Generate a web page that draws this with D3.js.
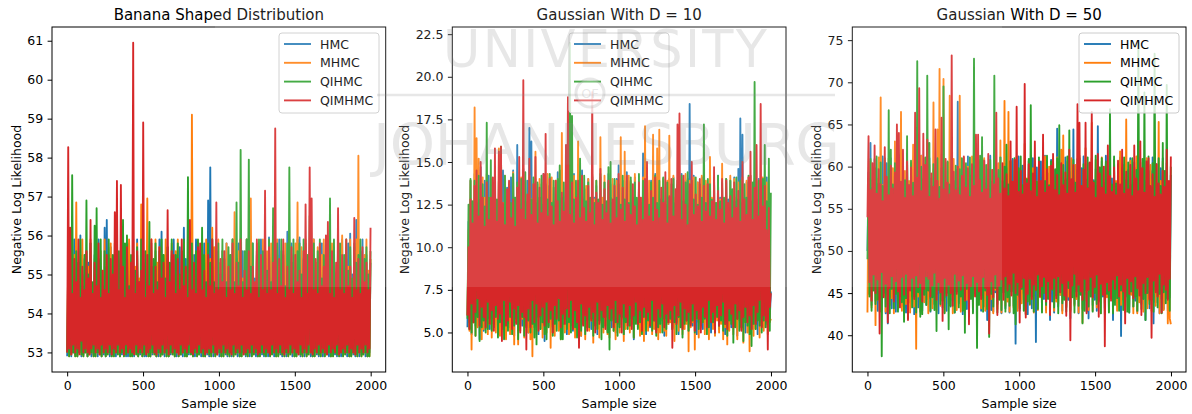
<!DOCTYPE html>
<html>
<head>
<meta charset="utf-8">
<script src="https://cdn.jsdelivr.net/npm/d3@7"></script>
<style>
  body { margin: 0; background: #fff; }
  text { font-family: "DejaVu Sans", sans-serif; }
</style>
</head>
<body>
<div id="my_dataviz"></div>
<script>
// trace positions (thinned from the 2000 drawn samples)
const sampleSize = d3.range(300).map(i => Math.round(i * 1999 / 299));
const methods = ["HMC", "MHMC", "QIHMC", "QIMHMC"];
const colors = ["#1f77b4", "#ff7f0e", "#2ca02c", "#d62728"];
const xTicks = [0, 500, 1000, 1500, 2000];

// Banana shaped distribution
const bananaHMC = [
  52.9,54.5,53.0,55.6,52.9,54.8,53.0,55.9,52.95,54.6,52.9,55.3,53.0,56.0,52.9,55.0,52.95,55.4,53.0,54.7,
  52.9,55.3,53.0,55.8,52.9,54.7,52.95,55.5,53.0,55.0,52.9,55.9,53.0,55.2,52.9,54.8,52.95,56.2,52.9,56.4,
  53.0,55.0,52.9,55.7,52.95,54.6,53.0,55.4,52.9,55.9,53.0,54.8,52.9,55.3,52.95,55.6,53.0,54.9,52.9,55.4,
  52.9,55.8,53.0,54.7,52.95,55.5,52.9,55.0,53.0,55.9,52.9,54.6,52.95,55.3,53.0,55.7,52.9,54.8,52.9,55.5,
  53.0,55.1,52.9,55.8,52.95,54.7,53.0,55.6,52.9,55.0,52.9,55.9,53.0,56.1,52.95,54.8,52.9,55.4,53.0,55.7,
  52.9,54.7,52.95,55.5,53.0,55.9,52.9,54.9,52.9,55.3,53.0,55.7,52.95,54.6,52.9,56.2,53.0,55.4,52.9,55.0,
  52.95,55.8,53.0,54.7,52.9,55.5,52.9,55.9,53.0,54.8,52.95,55.6,52.9,55.1,53.0,55.8,52.9,54.7,52.95,56.9,
  52.9,57.75,53.0,55.3,52.9,54.8,52.95,55.9,53.0,55.2,52.9,54.7,52.9,55.6,53.0,55.0,52.95,55.8,52.9,54.9,
  53.0,55.5,52.9,55.9,52.95,54.7,53.0,55.4,52.9,55.8,52.9,54.8,53.0,55.6,52.95,55.1,52.9,55.9,53.0,54.7,
  52.9,55.4,52.95,55.8,53.0,54.9,52.9,55.6,52.9,55.2,53.0,55.9,52.95,54.7,52.9,55.5,53.0,55.0,52.9,55.95,
  52.95,55.3,53.0,55.8,52.9,54.7,52.9,55.5,53.0,55.9,52.95,55.0,52.9,55.6,53.0,54.8,52.9,56.1,52.95,55.4,
  53.0,55.8,52.9,54.9,52.9,55.5,53.0,55.9,52.95,55.95,52.9,54.7,53.0,55.4,52.9,55.8,52.95,55.0,53.0,55.6,
  52.9,54.8,52.9,55.9,53.0,55.3,52.95,54.7,52.9,55.7,53.0,55.8,52.9,55.0,52.95,55.5,53.0,54.8,52.9,55.9,
  52.9,55.2,53.0,55.7,52.95,54.8,52.9,55.5,53.0,55.6,52.9,55.9,52.95,54.7,53.0,55.4,52.9,55.8,52.9,56.05,
  53.0,55.0,52.95,55.7,52.9,56.4,53.0,54.8,52.9,55.6,52.95,55.9,53.0,55.1,52.9,55.5,52.9,54.8,53.0,55.3];
const bananaMHMC = [
  53.0,55.4,52.9,55.8,52.95,54.7,53.0,55.5,52.9,56.85,52.9,55.0,53.0,55.5,52.95,55.9,52.9,54.8,53.0,55.6,
  52.9,55.2,52.95,55.9,53.0,54.7,52.9,55.4,52.9,55.8,53.0,54.9,52.95,55.6,52.9,55.1,53.0,55.9,52.9,54.8,
  52.95,55.5,53.0,55.8,52.9,54.7,52.9,55.3,53.0,55.9,52.95,55.0,52.9,55.7,53.0,54.8,52.9,55.4,52.95,55.5,
  53.0,55.9,52.9,54.7,52.9,55.6,53.0,55.2,52.95,55.8,52.9,54.9,53.0,56.8,52.9,55.4,52.95,54.7,53.0,56.95,
  52.9,55.5,52.9,55.9,53.0,54.8,52.95,55.9,52.9,55.3,53.0,55.7,52.9,54.7,52.95,55.5,53.0,55.9,52.9,55.3,
  52.9,55.0,53.0,55.8,52.95,54.8,52.9,55.6,53.0,55.9,52.9,54.7,52.95,55.4,53.0,55.8,52.9,55.0,52.9,55.6,
  53.0,55.9,52.95,59.1,52.9,54.8,53.0,55.5,52.9,55.8,52.95,54.9,53.0,55.6,52.9,55.3,52.9,55.9,53.0,54.7,
  52.95,55.4,52.9,56.2,53.0,55.7,52.9,54.8,52.95,55.9,53.0,55.3,52.9,55.6,52.9,54.7,53.0,55.8,52.95,55.2,
  52.9,55.5,53.0,55.9,52.9,56.6,52.95,54.8,53.0,55.6,52.9,55.8,52.9,54.9,53.0,55.4,52.95,55.9,52.9,55.0,
  53.0,56.95,52.9,55.3,52.95,54.8,53.0,55.8,52.9,55.5,52.9,54.7,53.0,55.9,52.95,55.2,52.9,55.6,53.0,54.9,
  52.9,55.8,52.95,55.4,53.0,54.8,52.9,55.9,52.9,55.2,53.0,55.6,52.95,54.7,52.9,55.8,53.0,55.3,52.9,55.9,
  52.95,54.8,53.0,55.5,52.9,55.8,52.9,56.85,53.0,55.0,52.95,55.7,52.9,54.8,53.0,55.9,52.9,55.4,52.95,55.6,
  53.0,54.7,52.9,55.9,52.9,55.3,53.0,55.7,52.95,54.8,52.9,55.5,53.0,55.9,52.9,55.0,52.95,55.6,53.0,54.8,
  52.9,55.8,52.9,55.3,53.0,54.7,52.95,55.9,52.9,55.4,53.0,56.0,52.9,54.8,52.95,55.7,53.0,55.2,52.9,55.9,
  52.9,54.8,53.0,55.6,52.95,55.9,52.9,58.05,53.0,55.45,52.9,54.8,52.95,55.5,53.0,55.9,52.9,55.1,52.9,55.4];
const bananaQIHMC = [
  53.0,55.3,52.9,55.9,52.95,57.55,53.0,54.8,52.9,55.6,52.9,55.3,53.0,55.9,52.95,54.7,52.9,55.5,53.0,56.9,
  52.9,55.0,52.95,55.8,53.0,54.8,52.9,56.25,52.9,56.7,53.0,55.4,52.95,55.9,52.9,54.7,53.0,55.6,52.9,55.2,
  52.95,55.9,53.0,54.8,52.9,55.5,52.9,55.8,53.0,54.9,52.95,55.6,52.9,55.2,53.0,56.4,52.9,55.8,52.95,56.0,
  53.0,54.7,52.9,55.5,52.9,55.9,53.0,55.1,52.95,55.7,52.9,54.8,53.0,55.9,52.9,55.3,52.95,55.6,53.0,54.8,
  52.9,56.35,52.9,55.2,53.0,55.4,52.95,55.8,52.9,54.8,53.0,55.6,52.9,55.9,52.95,55.5,53.0,54.9,52.9,55.7,
  52.9,55.3,53.0,55.9,52.95,54.8,52.9,55.5,53.0,55.8,52.9,55.0,52.95,55.6,53.0,55.9,52.9,54.8,52.9,57.5,
  53.0,55.4,52.95,55.8,52.9,54.9,53.0,55.6,52.9,55.9,52.95,55.1,53.0,56.2,52.9,55.5,52.9,54.8,53.0,55.8,
  52.95,55.3,52.9,55.9,53.0,54.8,52.9,55.6,52.95,55.8,53.0,55.0,52.9,55.9,52.9,55.4,53.0,54.8,52.95,55.7,
  52.9,55.5,53.0,55.9,52.9,54.8,52.95,56.85,53.0,55.3,52.9,58.2,52.9,54.8,53.0,55.6,52.95,55.9,52.9,57.95,
  53.0,55.2,52.9,55.8,52.95,54.8,53.0,55.5,52.9,55.9,52.9,54.7,53.0,55.6,52.95,55.8,52.9,55.1,53.0,55.9,
  52.9,54.8,52.95,56.7,53.0,55.4,52.9,55.8,52.9,54.9,53.0,55.9,52.95,55.5,52.9,54.7,53.0,55.8,52.9,57.75,
  52.95,55.3,53.0,55.9,52.9,54.8,52.9,55.6,53.0,55.8,52.95,55.0,52.9,55.9,53.0,54.7,52.9,55.5,52.95,56.5,
  53.0,55.2,52.9,55.8,52.9,54.8,53.0,55.6,52.95,55.9,52.9,54.9,53.0,55.5,52.9,55.8,52.95,54.8,53.0,56.95,
  52.9,55.4,52.9,55.9,53.0,54.8,52.95,55.6,52.9,55.8,53.0,54.7,52.9,55.5,52.95,55.9,53.0,55.1,52.9,55.7,
  52.9,54.9,53.0,55.8,52.95,55.3,52.9,55.5,53.0,55.9,52.9,54.8,52.95,55.4,53.0,55.7,52.9,55.0,52.9,55.6];
const bananaQIMHMC = [
  53.0,58.27,53.1,56.2,52.95,54.5,53.2,55.4,53.0,54.8,53.1,55.9,52.95,54.4,53.3,55.2,53.0,54.6,53.1,55.6,
  53.0,54.9,52.95,56.4,53.1,54.5,53.2,55.3,53.0,54.7,53.1,55.8,52.95,54.4,53.2,55.1,53.0,54.6,53.1,55.5,
  53.0,54.5,53.2,55.4,52.95,55.0,53.1,56.6,53.0,57.4,53.2,54.6,53.0,57.3,53.1,55.2,52.95,54.4,53.2,55.7,
  53.0,54.6,53.1,55.3,53.0,60.95,52.95,54.5,53.2,55.6,53.0,54.8,53.1,55.1,53.0,58.9,53.2,54.4,52.95,55.5,
  53.0,54.7,53.1,55.9,53.2,54.5,53.0,55.2,52.95,54.6,53.1,55.7,53.0,54.9,53.2,55.3,53.0,54.4,53.1,56.65,
  52.95,54.8,53.2,55.6,53.0,55.5,53.1,54.5,53.0,55.4,52.95,54.6,53.2,55.9,53.0,54.7,53.1,55.2,53.0,54.4,
  53.2,56.4,53.0,54.6,52.95,55.3,53.1,54.5,53.0,55.7,53.2,55.8,53.0,54.6,53.1,55.1,52.95,54.4,53.0,55.5,
  53.1,54.7,53.0,55.9,53.2,54.5,53.0,56.85,52.95,54.6,53.1,55.4,53.0,54.8,53.2,55.6,53.0,54.4,53.1,55.2,
  53.0,54.6,52.95,55.8,53.2,54.5,53.0,55.3,53.1,54.7,53.0,55.9,53.2,54.4,52.95,55.1,53.0,54.6,53.1,55.6,
  53.0,54.5,53.2,55.2,53.0,54.8,53.1,55.9,52.95,54.4,53.0,55.5,53.2,54.6,53.0,57.15,53.1,54.5,53.0,55.7,
  52.95,54.6,53.2,55.3,53.0,58.75,53.1,54.5,53.0,55.4,53.2,54.7,53.0,55.9,52.95,54.4,53.1,55.2,53.0,54.6,
  53.2,55.7,53.0,54.5,53.1,55.5,53.0,54.8,52.95,55.1,53.2,54.4,53.0,55.6,53.1,56.8,53.0,54.5,53.2,57.75,
  53.0,56.95,52.95,54.6,53.1,55.4,53.0,54.5,53.2,55.8,53.0,54.7,53.1,55.2,53.0,56.0,52.95,56.35,53.2,54.5,
  53.0,55.6,53.1,54.4,53.0,55.3,53.2,56.7,52.95,54.6,53.0,55.5,53.1,54.5,53.0,55.9,53.2,54.7,53.0,55.2,
  53.1,54.4,53.0,56.45,52.95,54.6,53.2,55.4,53.0,54.5,53.1,55.7,53.0,54.8,53.2,55.3,53.0,54.6,53.1,56.2];
const bananaTicks = [53, 54, 55, 56, 57, 58, 59, 60, 61];

// Gaussian with D = 10
const gauss10HMC = [
  5.3,11.5,5.6,13.9,4.9,12.4,6.1,14.3,5.4,12.8,5.9,13.6,4.6,14.7,6.2,12.3,5.1,13.9,5.7,12.9,
  6.0,14.2,5.2,12.6,5.8,13.7,5.3,14.4,6.3,12.5,4.9,13.8,5.7,12.2,5.5,14.5,6.1,12.9,5.0,13.5,
  5.8,12.6,5.3,14.1,6.0,14.5,4.8,12.9,5.6,16.0,5.1,13.4,6.2,12.3,5.4,14.6,5.9,12.7,6.1,13.9,
  5.0,17.0,5.7,16.2,6.0,12.8,5.3,14.0,5.8,12.5,4.9,13.7,6.2,12.4,5.5,14.3,4.5,12.9,5.9,13.6,
  5.4,14.1,6.1,12.7,5.0,13.5,5.7,12.2,6.3,14.4,5.2,12.9,5.8,13.8,5.5,12.4,6.0,14.2,4.9,12.8,
  5.6,13.9,6.2,12.5,5.1,14.3,5.8,12.6,5.4,13.7,6.0,12.3,4.8,14.5,5.7,12.8,6.1,13.4,5.3,14.0,
  5.9,12.6,5.2,14.2,6.2,12.9,5.5,13.6,4.9,12.4,5.8,14.1,6.0,12.7,5.4,13.8,5.7,12.5,5.1,14.3,
  6.1,12.9,5.3,13.7,5.8,12.4,5.0,14.0,5.9,14.8,5.5,12.6,6.2,13.9,4.9,12.8,5.6,14.4,6.0,12.5,
  5.4,13.8,5.9,12.9,4.6,14.1,5.7,12.3,6.1,13.6,5.2,12.7,5.8,15.5,5.5,12.6,4.9,14.2,6.0,12.8,
  5.3,13.9,5.8,12.4,6.2,14.3,5.1,12.9,5.7,13.5,5.4,12.2,6.0,14.0,4.8,12.7,5.9,13.8,5.5,14.0,
  6.1,12.6,5.2,14.1,5.8,12.8,5.6,13.6,4.9,12.5,6.0,14.3,5.3,12.7,5.7,13.9,6.2,14.0,5.1,18.4,
  5.8,12.6,5.4,14.2,6.0,12.3,4.9,13.8,5.6,12.9,6.2,14.1,5.2,12.5,5.9,13.7,5.5,12.8,6.1,14.4,
  5.0,12.7,5.8,13.9,5.4,12.4,6.0,14.2,5.2,12.9,5.7,13.5,6.1,12.6,4.9,14.0,5.6,12.8,5.9,13.9,
  5.3,12.5,6.0,14.1,5.5,12.7,4.8,14.6,5.8,17.55,5.4,16.6,6.1,12.9,5.0,13.8,5.7,12.4,5.9,14.2,
  5.2,12.6,6.0,13.9,5.5,12.8,4.9,14.0,5.8,12.5,6.2,13.7,5.3,12.9,5.7,14.1,5.9,12.3,5.8,7.4];
const gauss10MHMC = [
  6.0,11.0,5.1,13.9,4.0,12.6,5.6,18.2,4.8,16.4,5.3,15.2,5.9,12.7,4.6,14.1,5.2,12.9,5.7,14.3,
  4.9,12.4,5.5,14.0,4.7,12.8,5.8,13.9,5.0,12.5,5.4,15.8,4.8,15.9,5.9,12.6,5.2,14.2,4.6,12.9,
  5.6,13.8,4.9,12.5,5.3,14.4,4.3,12.7,5.7,13.6,4.3,12.8,5.1,14.1,5.8,12.4,4.7,13.9,5.4,12.6,
  5.0,14.2,4.6,12.8,3.6,13.7,5.5,15.6,4.9,12.6,5.8,14.0,5.2,12.9,4.7,13.8,5.6,12.5,5.0,14.3,
  5.7,12.7,4.1,14.1,5.3,12.5,4.8,13.9,5.9,12.8,5.1,14.5,4.6,16.7,5.5,12.6,5.0,14.0,5.7,12.9,
  4.9,13.8,5.4,12.4,5.8,14.2,4.7,12.7,5.6,16.2,5.0,12.9,4.8,14.1,5.9,12.5,4.6,13.6,5.3,14.0,
  5.1,12.6,5.7,14.3,4.4,12.8,5.8,13.9,5.2,12.4,4.7,16.45,5.6,12.9,5.0,14.2,5.4,12.6,4.9,13.8,
  4.7,12.5,5.9,14.0,5.1,12.7,4.6,13.9,5.5,12.4,5.0,16.45,5.8,12.8,4.5,15.6,5.2,12.6,5.6,14.2,
  5.0,13.9,5.5,12.5,4.7,14.3,5.9,12.7,5.3,13.8,4.8,12.9,5.7,14.1,4.5,17.1,5.4,12.6,5.1,13.9,
  5.6,12.8,4.9,16.6,5.2,12.5,5.8,15.8,4.6,16.9,5.0,12.8,5.7,14.0,5.1,12.6,4.8,13.9,5.5,16.55,
  5.6,12.7,5.3,14.2,4.5,12.9,5.9,13.7,5.1,12.5,5.7,14.0,4.9,12.8,5.2,14.3,5.5,12.6,3.9,13.9,
  5.3,12.8,5.6,14.1,4.0,12.5,5.8,13.8,4.7,12.9,5.3,14.2,5.6,12.6,4.9,13.9,5.5,12.7,4.6,15.3,
  5.9,12.9,5.2,14.1,4.8,12.6,5.7,13.8,5.0,12.8,5.5,14.9,4.6,12.6,5.3,14.0,4.3,12.5,5.1,14.2,
  5.8,12.7,4.9,14.0,5.4,12.9,4.6,13.8,5.7,12.5,5.2,14.1,4.4,12.8,5.6,13.9,5.0,12.6,3.9,14.2,
  5.5,12.8,4.8,14.0,5.2,12.6,5.9,13.9,4.7,12.7,5.4,14.1,5.1,12.5,5.5,13.8,4.9,12.6,5.6,5.8];
const gauss10QIHMC = [
  5.8,12.5,5.2,14.0,5.0,12.7,5.6,13.9,4.8,12.6,5.9,14.2,4.5,12.8,5.3,13.7,5.7,12.4,5.0,17.3,
  5.2,12.9,5.8,15.1,5.1,12.6,5.5,14.1,5.9,12.8,4.7,13.9,5.6,15.9,5.2,12.5,4.6,14.2,5.7,12.8,
  5.1,13.7,5.9,12.6,4.9,14.3,5.4,12.9,5.8,13.8,4.6,12.5,5.5,14.0,5.9,12.7,4.8,14.4,5.3,12.6,
  5.7,13.9,5.0,12.8,5.5,14.1,4.7,12.6,4.3,13.8,5.9,12.9,5.2,14.2,5.6,12.5,4.9,13.7,4.6,12.8,
  5.3,14.3,5.8,12.6,4.8,13.9,5.5,12.7,5.1,14.0,5.7,14.8,4.6,12.9,4.6,13.8,5.8,12.5,5.2,14.1,
  5.6,22.0,5.0,17.7,5.9,12.8,5.3,13.9,4.7,12.6,5.8,15.2,5.1,13.0,5.5,14.2,4.9,12.7,5.7,13.8,
  5.3,12.9,5.8,14.1,4.8,12.6,5.4,13.9,5.2,12.8,5.7,14.3,4.6,12.5,5.3,13.8,5.9,12.7,5.0,14.7,
  4.0,15.0,5.7,12.6,5.1,14.0,5.6,12.9,4.8,13.7,5.3,12.5,5.9,14.2,4.9,12.8,5.6,13.9,5.2,12.6,
  5.4,14.1,5.8,12.7,4.7,13.8,5.5,12.9,5.2,14.3,5.6,12.6,4.9,13.9,5.9,12.8,5.1,14.0,5.7,12.5,
  5.9,13.8,5.1,12.9,5.7,14.2,4.8,12.6,5.3,13.9,5.5,12.8,5.0,14.1,5.8,12.5,5.2,13.8,5.6,12.9,
  5.8,13.7,5.2,14.0,5.6,12.6,4.9,13.9,5.9,12.8,5.3,14.2,4.7,12.7,5.5,13.8,5.7,14.4,5.1,12.6,
  5.5,13.9,5.7,12.8,5.0,14.1,5.8,12.5,5.2,13.7,5.4,12.9,5.6,17.2,5.8,12.6,4.9,14.0,5.3,13.7,
  5.7,12.8,5.6,13.9,5.0,12.6,5.9,14.2,5.4,12.7,5.7,13.8,5.1,12.9,5.5,14.0,4.8,12.6,5.7,13.9,
  5.5,13.4,4.4,12.7,5.3,14.1,5.8,12.8,5.1,13.9,5.3,12.6,4.5,13.7,5.6,12.9,5.4,14.2,4.9,12.7,
  4.2,13.8,5.5,19.7,5.2,12.6,5.7,13.9,5.4,12.8,5.0,14.0,5.7,16.0,5.3,12.7,5.6,15.2,5.1,13.2];
const gauss10QIMHMC = [
  6.0,10.0,5.2,12.8,6.7,11.4,5.6,13.6,6.2,14.5,7.0,11.8,5.4,15.0,6.5,12.9,5.9,11.2,5.3,13.8,
  6.8,11.6,5.5,12.9,6.3,14.1,5.1,15.8,6.6,11.5,5.8,15.6,6.1,15.9,4.5,12.6,6.9,11.3,5.4,13.4,
  5.7,13.9,6.8,11.7,5.2,12.8,6.4,11.2,5.5,13.5,6.6,15.3,5.0,12.2,6.2,19.8,5.9,11.6,4.0,13.1,
  6.4,15.2,5.3,11.9,6.9,13.7,5.6,15.3,6.7,11.4,5.1,13.5,6.0,12.0,6.5,14.3,5.4,16.65,6.8,11.8,
  5.6,14.0,6.3,12.4,5.0,11.3,6.6,13.9,5.8,12.7,7.0,11.5,5.3,13.2,6.1,12.1,5.5,16.0,6.4,18.8,
  5.9,11.9,6.9,13.8,5.2,11.4,6.3,12.9,5.6,13.9,4.1,11.7,6.7,14.2,5.4,12.3,6.0,11.5,5.1,13.6,
  6.5,12.0,5.7,19.1,6.2,11.3,5.0,13.2,6.8,12.6,5.5,14.6,6.3,11.6,5.9,13.4,5.2,12.0,6.6,13.9,
  5.8,11.4,6.4,12.8,5.3,13.6,6.9,11.7,5.6,14.3,6.1,12.2,5.0,13.5,6.7,11.5,5.9,14.2,5.4,12.5,
  6.6,11.9,5.2,13.7,6.0,12.4,6.8,11.3,5.5,13.8,6.3,12.9,5.1,11.6,6.5,14.0,5.8,15.0,6.2,11.8,
  5.4,13.3,6.9,11.5,5.7,14.1,5.0,12.2,6.4,11.7,5.9,13.5,6.7,12.6,5.3,14.4,6.1,11.4,5.6,13.0,
  6.3,14.0,4.1,11.8,6.6,13.4,5.5,17.2,6.0,17.85,6.8,11.6,5.2,14.2,6.4,12.5,5.7,11.3,6.2,13.7,
  5.4,15.0,6.7,11.9,5.1,13.1,6.3,12.4,5.8,14.0,5.0,11.5,6.5,13.6,5.9,12.1,5.3,13.7,6.9,11.8,
  5.6,12.7,6.2,14.7,5.0,11.6,6.6,13.3,5.4,12.2,6.0,14.0,6.8,11.4,5.5,13.9,5.2,12.6,6.4,13.0,
  6.1,11.7,5.3,13.8,6.7,12.3,5.8,13.3,6.3,11.5,5.1,15.0,5.9,12.8,6.5,11.9,5.6,14.1,6.0,15.6,
  5.2,11.6,6.6,13.5,5.5,16.0,6.2,11.8,6.9,18.4,5.3,12.4,6.0,13.6,5.7,11.0,4.0,12.3,6.5,7.3];
const gauss10Ticks = [5, 7.5, 10, 12.5, 15, 17.5, 20, 22.5];

// Gaussian with D = 50
const gauss50HMC = [
  50.0,59.3,45.2,62.8,43.6,58.4,46.0,60.9,44.1,57.6,42.9,59.8,45.5,58.1,43.8,61.2,44.7,57.3,42.6,60.4,
  41.4,58.7,44.9,61.0,43.2,57.5,45.6,59.6,42.8,58.2,44.4,61.4,45.8,57.2,43.5,60.1,44.2,58.5,42.7,61.1,
  45.3,57.7,43.9,59.9,44.6,58.3,42.5,60.7,45.1,57.4,43.3,59.3,44.8,61.3,42.9,58.0,45.7,60.2,43.6,57.9,
  44.3,61.0,42.8,58.6,45.4,59.7,43.7,57.5,44.9,60.8,42.6,58.2,45.0,61.4,43.3,59.0,44.5,57.6,42.9,60.5,
  45.6,58.3,43.4,61.1,44.1,57.8,42.7,59.6,45.2,67.7,43.8,58.0,44.6,60.9,42.5,57.3,45.5,59.9,43.1,61.2,
  43.3,57.5,44.7,60.3,42.8,58.4,45.3,61.0,43.6,57.7,44.2,59.5,42.9,58.1,45.7,60.8,43.4,57.4,41.8,59.7,
  44.8,61.3,43.0,58.2,42.8,60.0,45.1,57.6,43.7,59.2,44.4,61.1,42.6,57.9,45.6,60.4,43.2,58.3,44.9,59.8,
  42.7,57.5,45.3,60.9,43.5,58.0,39.0,59.4,44.6,61.2,42.9,57.7,45.0,60.1,43.8,58.5,44.1,57.3,42.5,60.7,
  45.4,58.1,43.2,61.0,44.7,57.6,39.2,59.9,43.6,58.3,45.2,60.6,42.8,57.4,44.3,61.3,43.0,58.0,45.5,59.2,
  41.8,60.8,44.0,57.7,42.7,59.6,45.1,64.5,43.4,58.2,44.8,60.3,42.9,57.5,45.6,61.1,43.3,58.6,44.2,59.4,
  42.0,57.9,45.0,64.4,43.7,58.3,44.5,60.9,42.6,57.6,45.3,59.8,43.1,61.2,44.9,58.0,42.8,60.4,42.0,57.5,
  45.4,61.0,43.6,58.4,44.2,59.7,42.9,64.8,45.1,57.8,43.8,60.6,44.6,58.1,42.5,61.3,45.7,57.4,43.2,59.9,
  44.4,58.6,41.8,60.8,45.2,57.7,43.5,59.3,44.8,61.1,39.9,58.0,45.0,60.2,43.0,57.5,44.6,59.6,42.7,61.0,
  45.5,57.9,43.4,60.5,44.1,58.3,42.8,61.2,45.3,57.6,43.7,59.9,44.9,58.4,41.8,60.7,45.0,57.3,43.2,59.5,
  44.7,61.1,41.4,58.2,43.9,60.3,45.4,57.7,42.6,59.8,44.3,61.0,43.1,57.6,45.2,60.4,42.9,58.1,44.5,59.0];
const gauss50MHMC = [
  42.7,58.2,44.9,60.6,43.3,57.4,45.6,59.9,41.2,58.6,44.2,61.1,45.4,68.2,43.0,57.8,44.7,60.3,42.8,58.4,
  45.2,61.0,43.6,57.5,44.4,59.8,42.6,63.0,45.7,58.1,43.1,60.7,44.8,66.5,42.9,57.6,45.3,59.5,43.7,61.2,
  44.0,58.3,42.7,60.4,45.5,62.6,43.4,57.7,38.4,59.9,44.6,58.2,42.8,61.3,45.1,57.9,43.9,61.0,44.3,58.6,
  42.6,60.2,45.4,57.5,43.2,67.6,44.8,59.4,42.9,64.4,45.6,71.6,43.5,58.3,44.1,70.4,42.7,57.8,45.2,60.5,
  43.8,68.4,44.5,58.0,42.6,60.9,45.3,57.6,43.0,59.7,44.9,68.4,42.8,58.2,45.5,61.1,43.6,57.5,44.2,60.0,
  42.9,58.7,45.1,61.2,43.4,57.6,44.7,59.9,42.5,58.3,45.6,60.8,43.2,57.4,44.4,61.0,42.9,58.1,45.0,60.3,
  43.7,57.7,44.3,59.6,42.6,61.3,45.4,58.0,43.1,60.4,44.8,63.1,42.7,57.5,45.2,67.8,43.5,58.4,44.0,66.5,
  42.8,60.6,45.5,57.8,43.3,59.5,44.6,61.2,42.9,58.0,45.0,60.1,43.8,57.3,44.2,62.7,42.5,58.6,45.3,60.7,
  43.6,57.6,44.9,59.8,42.7,61.0,45.4,58.2,43.0,60.5,44.5,57.5,42.8,59.9,45.1,61.2,42.7,58.4,44.4,60.0,
  43.2,57.7,45.6,60.9,42.9,58.3,44.0,61.1,43.7,57.6,44.8,62.0,42.6,63.7,45.3,58.0,43.4,60.6,44.6,58.5,
  42.8,61.0,45.0,57.8,43.5,60.2,44.3,58.4,42.7,61.3,45.5,57.5,41.5,59.7,44.1,62.2,45.2,57.9,43.0,60.4,
  44.7,65.2,42.9,58.1,45.4,60.8,43.3,57.6,44.0,59.9,42.6,61.1,45.1,57.7,43.8,60.3,44.5,58.2,42.8,61.0,
  45.3,57.5,43.1,60.6,44.6,58.3,42.9,59.8,45.0,61.8,43.6,57.9,44.2,60.1,42.7,65.6,45.5,58.0,43.4,60.7,
  44.8,57.6,42.6,59.9,45.2,61.2,42.6,58.2,43.9,60.5,44.5,57.4,42.8,59.6,45.4,61.0,43.2,57.8,44.1,60.2,
  42.9,58.5,45.0,61.1,43.5,57.7,44.7,65.3,42.6,58.3,45.3,60.6,43.0,57.5,44.4,59.9,41.4,58.0,42.0,41.3];
const gauss50QIHMC = [
  49.0,58.6,44.6,60.9,42.9,57.5,45.3,59.8,43.7,61.2,44.2,58.0,42.8,60.5,37.5,57.7,45.0,61.0,43.4,58.3,
  44.7,66.7,42.6,62.0,45.5,57.9,43.2,60.4,44.9,58.2,42.8,61.1,45.2,57.6,43.9,59.9,41.6,58.4,44.4,63.6,
  42.0,57.8,45.6,60.7,43.3,58.1,44.6,61.2,42.7,72.5,45.1,57.5,42.2,60.0,42.5,58.5,44.8,61.1,43.6,70.8,
  45.3,62.8,42.9,57.7,44.5,60.3,43.0,58.2,40.5,61.0,45.4,57.6,43.7,59.8,44.1,69.5,42.6,58.0,45.0,60.6,
  40.7,57.9,43.5,61.2,44.8,58.3,42.7,60.1,45.2,57.5,43.3,59.7,44.6,61.0,42.9,58.1,40.3,60.4,45.5,57.7,
  43.8,61.1,44.3,58.4,42.6,72.8,45.0,57.6,38.5,59.9,43.6,61.3,44.7,63.5,42.8,58.0,45.3,60.2,43.1,57.8,
  39.8,60.8,44.9,58.2,43.4,70.8,45.6,57.5,42.7,59.6,44.2,61.1,43.0,58.3,45.1,60.0,42.8,62.6,44.5,57.9,
  43.5,60.7,45.2,58.1,42.6,61.0,41.3,57.6,44.8,59.8,43.2,61.2,45.5,57.8,42.9,60.3,42.5,58.5,44.0,60.9,
  43.7,67.3,44.6,57.7,42.8,60.4,45.3,58.2,43.1,61.1,44.9,57.5,42.7,59.9,45.0,58.3,43.6,61.3,44.3,57.8,
  42.9,60.6,45.4,58.0,43.3,59.7,44.7,61.0,42.6,64.9,45.1,57.6,43.8,60.2,44.2,58.4,42.8,61.2,45.6,64.3,
  43.0,57.9,44.5,60.8,42.7,58.1,45.2,59.6,43.5,61.0,44.8,57.7,41.4,60.3,42.9,58.5,45.3,61.1,43.4,57.5,
  44.6,60.4,42.8,58.2,45.0,61.3,43.7,57.8,44.1,59.9,42.6,61.0,45.5,57.6,43.2,60.6,44.9,58.3,42.7,66.8,
  45.1,57.9,42.6,61.2,43.6,58.0,44.4,60.3,42.9,57.5,45.3,59.8,43.0,61.1,44.7,58.4,42.8,60.5,42.7,57.7,
  45.2,61.0,43.4,58.1,44.6,59.6,42.9,74.7,45.5,57.8,43.1,60.9,44.3,68.8,41.8,58.3,45.0,61.2,43.7,57.6,
  44.2,60.4,42.8,73.4,45.4,58.0,43.3,61.0,44.9,57.7,42.6,62.8,45.1,59.5,43.8,69.7,44.4,58.2,42.9,60.0];
const gauss50QIMHMC = [
  54.0,63.6,46.3,57.2,44.1,60.4,47.2,62.5,45.0,56.8,46.6,59.7,40.2,57.9,47.5,55.9,44.5,62.3,46.1,58.8,
  41.5,56.6,45.6,60.1,47.0,57.4,44.0,59.3,46.4,65.0,45.2,64.0,43.3,58.2,46.9,62.0,44.8,56.3,47.3,60.6,
  41.8,57.8,45.3,59.9,46.8,56.5,44.3,66.4,47.1,58.7,45.7,69.3,46.2,57.1,44.0,63.9,45.5,60.2,47.0,63.2,
  46.7,56.4,44.6,59.2,45.9,57.6,47.4,64.4,44.2,58.3,46.3,56.2,45.1,65.8,41.7,57.3,46.8,60.9,44.7,58.1,
  46.0,56.7,45.0,73.2,43.5,59.4,47.3,57.2,44.9,60.0,46.5,56.6,45.4,58.9,47.1,61.2,44.1,57.5,46.2,59.8,
  41.3,56.4,45.8,60.3,47.0,57.7,44.6,63.8,46.3,63.8,45.2,58.4,44.3,56.9,46.9,60.7,45.6,57.3,44.8,61.5,
  40.2,56.2,46.4,59.6,44.5,57.9,47.2,66.4,42.4,58.6,45.9,56.8,46.6,60.4,44.2,57.4,47.0,59.1,45.3,56.5,
  46.1,63.0,44.7,58.2,47.4,60.8,45.0,67.1,46.3,57.0,41.5,59.5,45.7,56.7,46.8,69.8,42.1,58.0,44.9,60.3,
  46.7,57.1,44.3,59.2,46.0,63.0,45.4,56.4,47.2,60.6,44.6,58.3,45.8,63.8,46.9,56.9,44.0,59.7,46.4,57.6,
  42.4,60.1,45.5,61.5,46.8,57.2,44.4,59.0,47.0,56.6,45.1,60.4,46.2,57.8,44.7,59.3,42.3,56.8,46.5,62.0,
  39.4,58.5,45.9,60.2,47.3,56.9,44.6,67.4,46.0,65.2,45.2,57.7,44.2,59.6,46.7,65.2,42.6,57.4,45.4,60.5,
  46.9,66.5,44.5,58.1,45.7,56.3,47.2,61.5,42.2,59.2,46.1,57.5,44.8,60.0,38.7,56.7,46.3,62.5,45.3,58.9,
  44.1,57.0,46.6,59.9,45.5,56.6,47.1,60.7,44.6,57.9,46.0,62.0,45.2,56.8,41.4,59.4,46.8,57.3,44.9,60.2,
  46.4,56.5,44.4,62.5,47.0,58.6,45.6,57.1,44.7,63.0,42.4,59.8,46.2,56.9,45.0,60.6,46.9,61.0,44.3,57.7,
  39.7,59.1,46.5,56.4,45.1,60.3,44.6,58.0,47.3,56.7,42.7,59.5,46.0,57.6,45.4,62.0,44.2,58.3,46.7,61.2];
const gauss50Ticks = [40, 45, 50, 55, 60, 65, 70, 75];

const panels = [
  { title: "Banana Shaped Distribution", left: 52, series: [bananaHMC, bananaMHMC, bananaQIHMC, bananaQIMHMC],
    ticks: bananaTicks, fmt: d3.format("d"), legendX: 279 },
  { title: "Gaussian With D = 10", left: 452.3, series: [gauss10HMC, gauss10MHMC, gauss10QIHMC, gauss10QIMHMC],
    ticks: gauss10Ticks, fmt: d3.format(".1f"), legendX: 569 },
  { title: "Gaussian With D = 50", left: 852.3, series: [gauss50HMC, gauss50MHMC, gauss50QIHMC, gauss50QIMHMC],
    ticks: gauss50Ticks, fmt: d3.format("d"), legendX: 1079 }
];

const W = 1192, H = 414;
const plotW = 333.7, plotTop = 27, plotBottom = 372;
const fontSize = 12.5;

var svg = d3.select("#my_dataviz")
  .append("svg")
  .attr("width", W)
  .attr("height", H)
  .style("background", "#fff");

// matplotlib-like 5% margins
const pad = function(ext) {
  var d = (ext[1] - ext[0]) * 0.05;
  return [ext[0] - d, ext[1] + d];
};

panels.forEach(function(p, k) {
  var g = svg.append("g");
  var x = d3.scaleLinear()
    .domain(pad(d3.extent(sampleSize)))
    .range([p.left, p.left + plotW]);
  var y = d3.scaleLinear()
    .domain(pad(d3.extent(p.series.flat())))
    .range([plotBottom, plotTop]);

  g.append("clipPath").attr("id", "clip" + k)
    .append("rect")
    .attr("x", p.left).attr("y", plotTop)
    .attr("width", plotW).attr("height", plotBottom - plotTop);

  var line = d3.line()
    .x(function(d, i) { return x(sampleSize[i]) })
    .y(function(d) { return y(d) });

  g.append("g").attr("clip-path", "url(#clip" + k + ")")
    .selectAll("path")
    .data(p.series)
    .enter()
    .append("path")
    .attr("d", line)
    .attr("fill", "none")
    .attr("stroke", function(d, i) { return colors[i] })
    .attr("stroke-width", 1.875)
    .attr("stroke-linejoin", "round");

  // axes
  var xAxis = g.append("g")
    .attr("transform", "translate(0," + plotBottom + ")")
    .call(d3.axisBottom(x).tickValues(xTicks).tickSize(4.4).tickPadding(4.4).tickFormat(d3.format("d")));
  var yAxis = g.append("g")
    .attr("transform", "translate(" + p.left + ",0)")
    .call(d3.axisLeft(y).tickValues(p.ticks).tickSize(4.4).tickPadding(4.4).tickFormat(p.fmt));
  [xAxis, yAxis].forEach(function(a) {
    a.select(".domain").remove();
    a.selectAll("line").attr("stroke", "#000").attr("stroke-width", 1);
    a.selectAll("text").style("font-size", fontSize + "px").attr("fill", "#000")
      .style("font-family", "DejaVu Sans");
  });

  // frame
  g.append("rect")
    .attr("x", p.left).attr("y", plotTop)
    .attr("width", plotW).attr("height", plotBottom - plotTop)
    .attr("fill", "none").attr("stroke", "#000").attr("stroke-width", 1);

  // title and axis labels
  g.append("text")
    .attr("x", p.left + plotW / 2).attr("y", 20)
    .attr("text-anchor", "middle")
    .style("font-size", "15px")
    .text(p.title);
  g.append("text")
    .attr("x", p.left + plotW / 2).attr("y", 407.5)
    .attr("text-anchor", "middle")
    .style("font-size", fontSize + "px")
    .text("Sample size");
  var labW = d3.max(yAxis.selectAll("text").nodes(), function(n) { return n.getComputedTextLength() });
  var labX = p.left - 8.8 - labW - 5 - 1.5;
  g.append("text")
    .attr("transform", "translate(" + labX + "," + ((plotTop + plotBottom) / 2) + ") rotate(-90)")
    .attr("text-anchor", "middle")
    .style("font-size", fontSize + "px")
    .text("Negative Log Likelihood");

  // legend
  var lg = g.append("g").attr("transform", "translate(" + p.legendX + ",33)");
  lg.append("rect")
    .attr("width", 100).attr("height", 80).attr("rx", 3)
    .attr("fill", "#fff").attr("fill-opacity", 0.8)
    .attr("stroke", "#cccccc").attr("stroke-width", 1);
  methods.forEach(function(m, i) {
    var ly = 11 + i * 18.8;
    lg.append("line")
      .attr("x1", 5).attr("x2", 32).attr("y1", ly).attr("y2", ly)
      .attr("stroke", colors[i]).attr("stroke-width", 1.875);
    lg.append("text")
      .attr("x", 41).attr("y", ly + 4.5)
      .style("font-size", fontSize + "px")
      .text(m);
  });
});

// watermark over the figure
var wm = svg.append("g").attr("pointer-events", "none");
wm.append("rect")
  .attr("x", 215).attr("y", 0).attr("width", 787).attr("height", 287)
  .attr("fill", "#fff").attr("fill-opacity", 0.12);
wm.append("text")
  .attr("x", 443).attr("y", 67)
  .attr("textLength", 324).attr("lengthAdjust", "spacing")
  .style("font-size", "51px")
  .attr("fill", "#888").attr("fill-opacity", 0.2)
  .text("UNIVERSITY");
wm.append("line")
  .attr("x1", 377).attr("x2", 835).attr("y1", 95).attr("y2", 95)
  .attr("stroke", "#888").attr("stroke-opacity", 0.2).attr("stroke-width", 2.5);
wm.append("circle")
  .attr("cx", 590).attr("cy", 93).attr("r", 14)
  .attr("fill", "#fff").attr("fill-opacity", 0.3)
  .attr("stroke", "#888").attr("stroke-opacity", 0.2).attr("stroke-width", 3);
wm.append("text")
  .attr("x", 590).attr("y", 98)
  .attr("text-anchor", "middle")
  .style("font-size", "13px")
  .attr("fill", "#888").attr("fill-opacity", 0.2)
  .text("OF");
wm.append("text")
  .attr("x", 373).attr("y", 165)
  .attr("textLength", 467).attr("lengthAdjust", "spacing")
  .style("font-size", "57.6px")
  .attr("fill", "#888").attr("fill-opacity", 0.2)
  .text("JOHANNESBURG");
</script>
</body>
</html>
